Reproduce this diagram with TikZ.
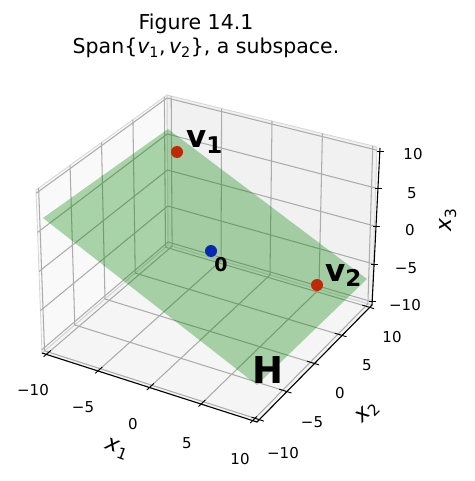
\documentclass[tikz,border=0pt]{standalone}
\usepackage{fontspec}
\setmainfont{DejaVu Sans}
\usetikzlibrary{calc}
\definecolor{paneL}{RGB}{249,249,249}
\definecolor{paneB}{RGB}{241,241,241}
\definecolor{paneZ}{RGB}{245,245,245}
\definecolor{paneedge}{RGB}{215,215,215}
\definecolor{gridc}{RGB}{172,172,172}
\definecolor{planeg}{RGB}{0,128,0}
\definecolor{ptred}{RGB}{192,40,8}
\definecolor{ptblue}{RGB}{8,40,176}
\def\LL{10.417}
\newcommand\mkpt[4]{%
  \pgfmathsetmacro\tU{(#2+10.417)/20.834}%
  \pgfmathsetmacro\tV{(#3+10.417)/20.834}%
  \pgfmathsetmacro\tW{(#4+10.417)/20.834}%
  \pgfmathsetmacro\tX{(1-\tW)*((1-\tU)*(1-\tV)*42+\tU*(1-\tV)*257+\tU*\tV*372+(1-\tU)*\tV*168)+\tW*((1-\tU)*(1-\tV)*36+\tU*(1-\tV)*256+\tU*\tV*377+(1-\tU)*\tV*167)}%
  \pgfmathsetmacro\tY{(1-\tW)*((1-\tU)*(1-\tV)*353+\tU*(1-\tV)*422+\tU*\tV*305+(1-\tU)*\tV*245)+\tW*((1-\tU)*(1-\tV)*190+\tU*(1-\tV)*251+\tU*\tV*147+(1-\tU)*\tV*95)}%
  \coordinate (#1) at (\tX,-\tY);%
}
\begin{document}
\begin{tikzpicture}[x=1pt,y=1pt,
  gridline/.style={draw=gridc,line width=1.05pt},
  paneline/.style={draw=paneedge,line width=0.9pt},
  axisline/.style={draw=black,line width=1.1pt},
  tickline/.style={draw=black,line width=0.9pt},
  ticklabel/.style={font=\fontsize{15}{18}\selectfont,inner sep=0pt},
  axislabel/.style={font=\fontsize{22}{25}\selectfont,inner sep=0pt},
  dot/.style={circle,inner sep=0pt,minimum size=12pt},
  bigbold/.style={font=\fontsize{31}{36}\selectfont\bfseries,inner sep=0pt},
  titlefont/.style={font=\fontsize{20.5}{24}\selectfont,inner sep=0pt}]
\useasboundingbox (0,0) rectangle (474,-481);
% corners of the box
\mkpt{A}{-\LL}{-\LL}{-\LL}
\mkpt{B}{\LL}{-\LL}{-\LL}
\mkpt{C}{\LL}{\LL}{-\LL}
\mkpt{D}{-\LL}{\LL}{-\LL}
\mkpt{E}{-\LL}{-\LL}{\LL}
\mkpt{G}{\LL}{\LL}{\LL}
\mkpt{Hc}{-\LL}{\LL}{\LL}
% panes
\fill[paneZ] (A) -- (B) -- (C) -- (D) -- cycle;
\fill[paneL] (A) -- (D) -- (Hc) -- (E) -- cycle;
\fill[paneB] (D) -- (C) -- (G) -- (Hc) -- cycle;
\draw[paneline] (A) -- (B) -- (C) -- (D) -- cycle;
\draw[paneline] (A) -- (D) -- (Hc) -- (E) -- cycle;
\draw[paneline] (D) -- (C) -- (G) -- (Hc) -- cycle;
% grid lines
\foreach \t in {-10,-5,0,5,10} {
  \mkpt{p}{\t}{-\LL}{-\LL}\mkpt{q}{\t}{\LL}{-\LL}\draw[gridline] (p) -- (q);
  \mkpt{p}{-\LL}{\t}{-\LL}\mkpt{q}{\LL}{\t}{-\LL}\draw[gridline] (p) -- (q);
  \mkpt{p}{-\LL}{\t}{-\LL}\mkpt{q}{-\LL}{\t}{\LL}\draw[gridline] (p) -- (q);
  \mkpt{p}{-\LL}{-\LL}{\t}\mkpt{q}{-\LL}{\LL}{\t}\draw[gridline] (p) -- (q);
  \mkpt{p}{\t}{\LL}{-\LL}\mkpt{q}{\t}{\LL}{\LL}\draw[gridline] (p) -- (q);
  \mkpt{p}{-\LL}{\LL}{\t}\mkpt{q}{\LL}{\LL}{\t}\draw[gridline] (p) -- (q);
}
% the plane H
\coordinate (h1) at (43,-218);
\coordinate (h2) at (168,-129);
\coordinate (h3) at (367,-279);
\coordinate (h4) at (257,-385);
\fill[planeg,opacity=0.32] (h1) -- (h2) -- (h3) -- (h4) -- cycle;
% axes
\coordinate (ztop) at (380,-148);
\draw[axisline] (A) -- (B) -- (C) -- (ztop);
\foreach \t in {-10,-5,0,5,10} {
  \mkpt{a}{\t}{-\LL-0.45}{-\LL}\mkpt{b}{\t}{-\LL+0.75}{-\LL}\draw[tickline] (a) -- (b);
  \mkpt{a}{\LL+0.45}{\t}{-\LL}\mkpt{b}{\LL-0.75}{\t}{-\LL}\draw[tickline] (a) -- (b);
  \pgfmathsetmacro\fr{(\t+10.417)/20.834}
  \coordinate (zt) at ($(C)!\fr!(ztop)$);
  \draw[tickline] ([xshift=-3pt]zt) -- ([xshift=4pt]zt);
}
% tick labels
\node[ticklabel] (tx1a) at (33,-390) {−10};
\node[ticklabel] (tx1b) at (83,-407) {−5};
\node[ticklabel] (tx1c) at (133,-424) {0};
\node[ticklabel] (tx1d) at (187,-443) {5};
\node[ticklabel] (tx1e) at (240,-459) {10};
\node[ticklabel] (tx2a) at (283,-453) {−10};
\node[ticklabel] (tx2b) at (312,-422) {−5};
\node[ticklabel] (tx2c) at (340,-393) {0};
\node[ticklabel] (tx2d) at (367,-365) {5};
\node[ticklabel] (tx2e) at (392,-337) {10};
\node[ticklabel] (tx3e) at (413,-154) {10};
\node[ticklabel] (tx3d) at (412,-193) {5};
\node[ticklabel] (tx3c) at (410,-230) {0};
\node[ticklabel] (tx3b) at (406,-268) {−5};
\node[ticklabel] (tx3a) at (405,-305) {−10};
% axis labels
\node[axislabel,rotate=-20] (lx1) at (117,-449) {{\itshape x}\textsubscript{1}};
\node[axislabel,rotate=45] (lx2) at (368,-413) {{\itshape x}\textsubscript{2}};
\node[axislabel,rotate=90] (lx3) at (448,-220) {{\itshape x}\textsubscript{3}};
% points
\node[dot,fill=ptred] (v1) at (177,-152) {};
\node[dot,fill=ptred] (v2) at (317,-285) {};
\node[dot,fill=ptblue] (o) at (211,-251) {};
\node[bigbold,anchor=base west] (lv1) at (186,-147) {v\raisebox{-6pt}{\fontsize{23}{23}\selectfont\bfseries 1}};
\node[bigbold,anchor=base west] (lv2) at (325,-281) {v\raisebox{-5pt}{\fontsize{23}{23}\selectfont\bfseries 2}};
\node[inner sep=0pt,font=\fontsize{19}{22}\selectfont\bfseries] (lo) at (221,-265) {0};
\node[inner sep=0pt,font=\fontsize{37}{40}\selectfont\bfseries] (lH) at (268,-370) {H};
% title
\node[titlefont,anchor=base] (t1) at (196,-29.5) {Figure 14.1};
\node[titlefont,anchor=base] (t2) at (206,-54) {Span\{{\itshape v}\textsubscript{1},\,{\itshape v}\textsubscript{2}\}, a subspace.};
\end{tikzpicture}
\end{document}
